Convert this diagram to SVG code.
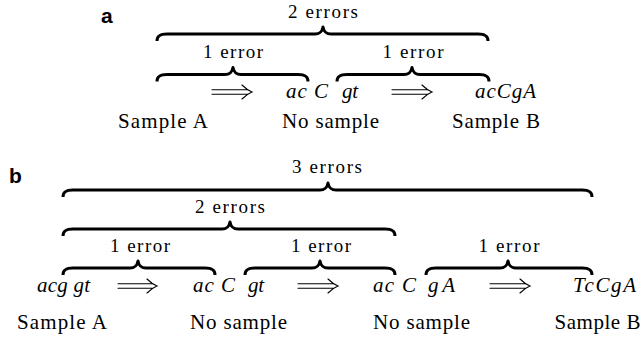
<svg xmlns="http://www.w3.org/2000/svg" width="644" height="339" viewBox="0 0 644 339">
<style>
.bg{fill:#fff}
.brace{fill:none;stroke:#000;stroke-width:3;stroke-linecap:butt;stroke-linejoin:round}
.arr{fill:none;stroke:#000;stroke-width:1.1;stroke-linecap:round}
.lbl{font-family:"Liberation Serif","Times New Roman",serif;font-size:21px;fill:#000;text-anchor:middle}
.err{font-family:"Liberation Serif","Times New Roman",serif;font-size:19px;fill:#000;text-anchor:middle}
.seq{font-family:"Liberation Serif","Times New Roman",serif;font-style:italic;font-size:21px;fill:#000}
.pan{font-family:"Liberation Sans",Arial,sans-serif;font-weight:bold;font-size:21px;fill:#000}
</style>
<rect class="bg" width="644" height="339"/>

<g id="panel-a">
  <text class="pan" x="101" y="23">a</text>
  <g id="a-braces">
    <path class="brace" d="M157,41 C157,36 160,34 167,34 L315,34 C320,34 322,32 323,27 C324,32 326,34 331,34 L478,34 C485,34 488,36 488,41"/>
    <text class="err" x="323" y="18" textLength="70">2 errors</text>
    <path class="brace" d="M157,81.5 C157,76.5 160,74.5 167,74.5 L225,74.5 C230,74.5 232,72.5 233,67.5 C234,72.5 236,74.5 241,74.5 L298,74.5 C305,74.5 308,76.5 308,81.5"/>
    <text class="err" x="233" y="58" textLength="60">1 error</text>
    <path class="brace" d="M337,81.5 C337,76.5 340,74.5 347,74.5 L404,74.5 C409,74.5 411,72.5 412,67.5 C413,72.5 415,74.5 420,74.5 L479,74.5 C486,74.5 489,76.5 489,81.5"/>
    <text class="err" x="413" y="58" textLength="61">1 error</text>
  </g>
  <g id="a-connectors">
    <path class="arr" d="M212,89.8 H248 M212,94.2 H248 M242,85 Q247,90 252,92 Q247,94 242,99"/>
    <path class="arr" d="M392,89.8 H428 M392,94.2 H428 M422,85 Q427,90 432,92 Q427,94 422,99"/>
  </g>
  <g id="a-sampleA"><text class="lbl" x="163" y="128" textLength="90">Sample A</text></g>
  <g id="a-nosample">
    <text class="seq" x="286" y="98" textLength="42">ac C</text>
    <text class="seq" x="342" y="98" textLength="16">gt</text>
    <text class="lbl" x="330.5" y="128" textLength="97">No sample</text>
  </g>
  <g id="a-sampleB">
    <text class="seq" x="475" y="98" textLength="61">acCgA</text>
    <text class="lbl" x="496" y="128" textLength="88">Sample B</text>
  </g>
</g>

<g id="panel-b">
  <text class="pan" x="9" y="183">b</text>
  <g id="b-braces">
    <path class="brace" d="M63,197 C63,192 66,190 73,190 L320,190 C325,190 327,188 328,183 C329,188 331,190 336,190 L582,190 C589,190 592,192 592,197"/>
    <text class="err" x="327" y="173" textLength="70">3 errors</text>
    <path class="brace" d="M63,236 C63,231 66,229 73,229 L222,229 C227,229 229,227 230,222 C231,227 233,229 238,229 L385,229 C392,229 395,231 395,236"/>
    <text class="err" x="230" y="213" textLength="70">2 errors</text>
    <path class="brace" d="M63,275 C63,270 66,268 73,268 L130,268 C135,268 137,266 138,261 C139,266 141,268 146,268 L205,268 C212,268 215,270 215,275"/>
    <text class="err" x="140" y="252" textLength="60">1 error</text>
    <path class="brace" d="M245,275 C245,270 248,268 255,268 L312,268 C317,268 319,266 320,261 C321,266 323,268 328,268 L385,268 C392,268 395,270 395,275"/>
    <text class="err" x="321" y="252" textLength="60">1 error</text>
    <path class="brace" d="M426,275 C426,270 429,268 436,268 L500,268 C505,268 507,266 508,261 C509,266 511,268 516,268 L582,268 C589,268 592,270 592,275"/>
    <text class="err" x="509" y="252" textLength="61">1 error</text>
  </g>
  <g id="b-connectors">
    <path class="arr" d="M118,283.8 H153 M118,288.2 H153 M147,279 Q152,284 157,286 Q152,288 147,293"/>
    <path class="arr" d="M298,283.8 H334 M298,288.2 H334 M328,279 Q333,284 338,286 Q333,288 328,293"/>
    <path class="arr" d="M490,283.8 H526 M490,288.2 H526 M520,279 Q525,284 530,286 Q525,288 520,293"/>
  </g>
  <g id="b-sampleA">
    <text class="seq" x="37" y="292" textLength="53">acg gt</text>
    <text class="lbl" x="62" y="329" textLength="90">Sample A</text>
  </g>
  <g id="b-nosample1">
    <text class="seq" x="193" y="292" textLength="42">ac C</text>
    <text class="seq" x="248" y="292" textLength="16">gt</text>
    <text class="lbl" x="238.5" y="329" textLength="97">No sample</text>
  </g>
  <g id="b-nosample2">
    <text class="seq" x="373" y="292" textLength="43">ac C</text>
    <text class="seq" x="428" y="292" textLength="27">gA</text>
    <text class="lbl" x="421.5" y="329" textLength="97">No sample</text>
  </g>
  <g id="b-sampleB">
    <text class="seq" x="573" y="292" textLength="63">TcCgA</text>
    <text class="lbl" x="597.5" y="329" textLength="86">Sample B</text>
  </g>
</g>
</svg>
